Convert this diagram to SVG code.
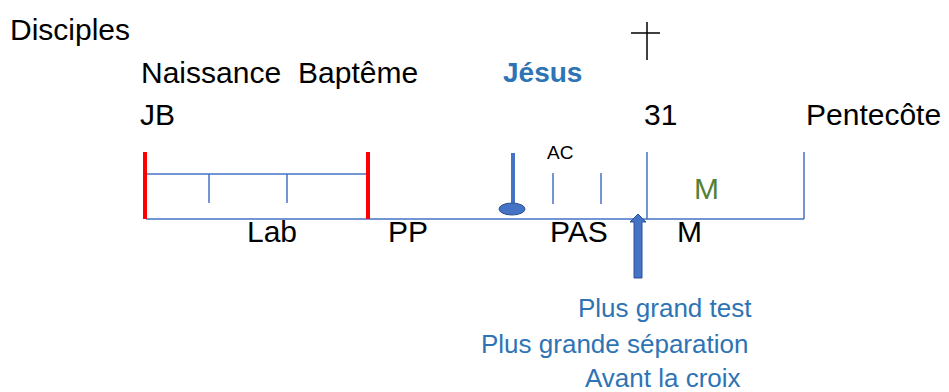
<svg xmlns="http://www.w3.org/2000/svg" width="949" height="392" viewBox="0 0 949 392">
<style>
  .t { font-family: "Liberation Sans", Arial, sans-serif; fill: #000; }
  .lg { font-size: 30px; }
  .bl { fill: #2E74B5; font-size: 26px; }
  .ln { stroke: #4472C4; stroke-width: 1.5; fill: none; }
  .red { stroke: #FF0000; stroke-width: 4; fill: none; }
</style>
<rect width="949" height="392" fill="#fff"/>
<g id="labels">
  <text class="t lg" x="10" y="40">Disciples</text>
  <text class="t lg" x="141" y="83">Naissance<tspan x="298">Baptême</tspan></text>
  <text class="t lg" x="140" y="125">JB</text>
  <text class="t" x="503" y="82" font-size="28" font-weight="bold" style="fill:#2E74B5">Jésus</text>
  <text class="t lg" x="644" y="125">31</text>
  <text class="t lg" x="806" y="125">Pentecôte</text>
  <text class="t" x="547" y="159" font-size="19">AC</text>
  <text class="t lg" x="694" y="199" style="fill:#548235">M</text>
  <text class="t lg" x="247" y="242">Lab</text>
  <text class="t lg" x="388" y="242">PP</text>
  <text class="t lg" x="550" y="242">PAS</text>
  <text class="t lg" x="677" y="242">M</text>
  <text class="t bl" x="578" y="317">Plus grand test</text>
  <text class="t bl" x="481" y="353">Plus grande séparation</text>
  <text class="t bl" x="585" y="387">Avant la croix</text>
</g>
<g id="cross">
  <line x1="647" y1="22" x2="647" y2="60" stroke="#000" stroke-width="1.5"/>
  <line x1="631" y1="33" x2="660" y2="33" stroke="#000" stroke-width="1.5"/>
</g>
<g id="timeline">
  <line class="ln" x1="146" y1="219" x2="804" y2="219"/>
  <line class="ln" x1="146" y1="174" x2="368" y2="174"/>
  <line class="ln" x1="209" y1="174" x2="209" y2="203"/>
  <line class="ln" x1="287" y1="174" x2="287" y2="203"/>
  <line class="ln" x1="553" y1="173" x2="553" y2="204"/>
  <line class="ln" x1="601" y1="173" x2="601" y2="204"/>
  <line class="ln" x1="647" y1="152" x2="647" y2="219"/>
  <line class="ln" x1="804" y1="152" x2="804" y2="219"/>
  <line class="red" x1="145" y1="152" x2="145" y2="219"/>
  <line class="red" x1="368" y1="152" x2="368" y2="219"/>
</g>
<g id="jesus-marker">
  <line x1="513" y1="153" x2="513" y2="210" stroke="#4472C4" stroke-width="4"/>
  <ellipse cx="512" cy="209" rx="13" ry="6" fill="#4472C4" stroke="#2F528F" stroke-width="1"/>
</g>
<g id="arrow">
  <polygon points="638,214 646,222 642,222 642,278 634,278 634,222 630,222" fill="#4472C4" stroke="#2F528F" stroke-width="1"/>
</g>
</svg>
